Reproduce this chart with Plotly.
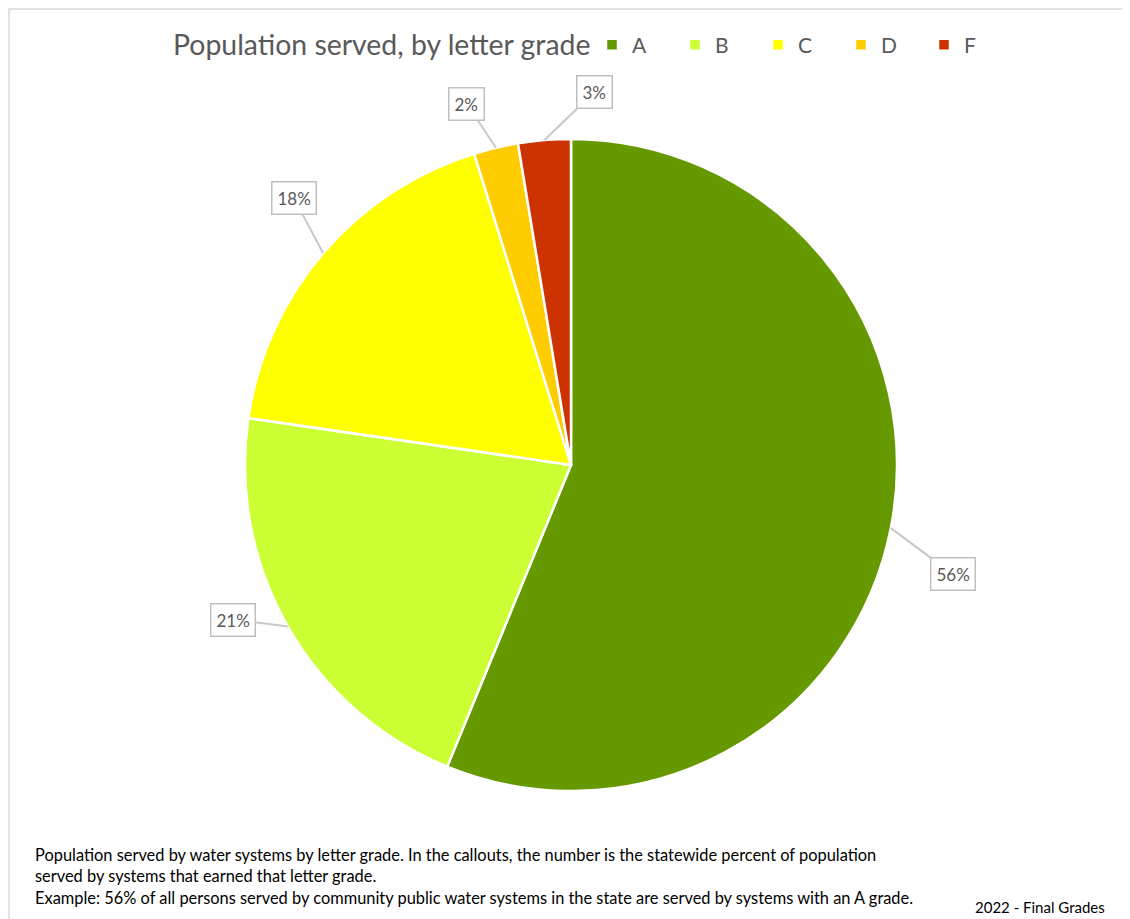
import math
import plotly.graph_objects as go

# Data
grades = ["A", "B", "C", "D", "F"]
share = [56.2, 21.1, 17.9, 2.2, 2.6]
colors = ["#669900", "#CCFF33", "#FFFF00", "#FFCC00", "#CC3300"]

# label box offsets from slice edge (pixels)
label_dx = [62, -55, -29, -29, 50]
label_dy = [46, -7, -55, -44, -48]

W, H = 1130, 919
OFF = 8  # page body margin
cx, cy, r = 571 - OFF, 465 - OFF, 326   # pie centre / radius in pixels


def px_x(v):
    return (v - OFF) / W


def px_y(v):
    return 1 - (v - OFF) / H


fig = go.Figure()
fig.add_trace(go.Pie(
    labels=grades, values=share, sort=False, direction="clockwise", rotation=0,
    marker=dict(colors=colors, line=dict(color="white", width=2.5)),
    textinfo="none", hoverinfo="label+percent",
    domain=dict(x=[(cx - r) / W, (cx + r) / W], y=[1 - (cy + r) / H, 1 - (cy - r) / H]),
))

# callouts: point at the middle of each slice's outer edge
total = sum(share)
start = 0
for i, v in enumerate(share):
    mid = (start + v / 2) / total * 2 * math.pi
    start += v
    px = cx + r * math.sin(mid)
    py = cy - r * math.cos(mid)
    fig.add_annotation(
        x=px / W, y=1 - py / H, xref="paper", yref="paper",
        text=f"{v / total * 100:.0f}%", showarrow=True,
        ax=label_dx[i], ay=label_dy[i], arrowhead=0, arrowwidth=2, arrowcolor="#C8C8C8",
        bgcolor="white", bordercolor="#BFBFBF", borderwidth=1.5, borderpad=5,
        font=dict(size=17, color="#595959"),
    )

# footnote
fig.add_annotation(
    x=px_x(33), y=px_y(843), xref="paper", yref="paper", xanchor="left", yanchor="top",
    showarrow=False, align="left",
    text=("Population served by water systems by letter grade. In the callouts, the number is the statewide percent of population<br>"
          "served by systems that earned that letter grade.<br>"
          "Example: 56% of all persons served by community public water systems in the state are served by systems with an A grade."),
    font=dict(size=16.4, color="black"),
)
fig.add_annotation(
    x=px_x(1107), y=px_y(907), xref="paper", yref="paper", xanchor="right", yanchor="middle",
    showarrow=False, text="2022 - Final Grades", font=dict(size=15, color="black"),
)

# outer frame
fig.add_shape(type="rect", xref="paper", yref="paper",
              x0=1 / W, x1=px_x(1124), y0=-0.02, y1=1 - 1 / H,
              line=dict(color="#D9D9D9", width=1.5))

fig.update_layout(
    width=W, height=H,
    margin=dict(l=0, r=0, t=0, b=0, autoexpand=False),
    paper_bgcolor="white", plot_bgcolor="white",
    font_family="Lato",
    title=dict(text="Population served, by letter grade", xref="container", x=px_x(173), xanchor="left",
               yref="container", y=px_y(45), yanchor="middle", font=dict(size=28.4, color="#595959")),
    showlegend=True,
    legend=dict(orientation="h", x=px_x(592), xanchor="left", y=px_y(45), yanchor="middle",
                font=dict(size=21, color="#595959"), entrywidth=38, entrywidthmode="pixels",
                itemwidth=30, traceorder="normal"),
)

fig.write_html("out.html")
